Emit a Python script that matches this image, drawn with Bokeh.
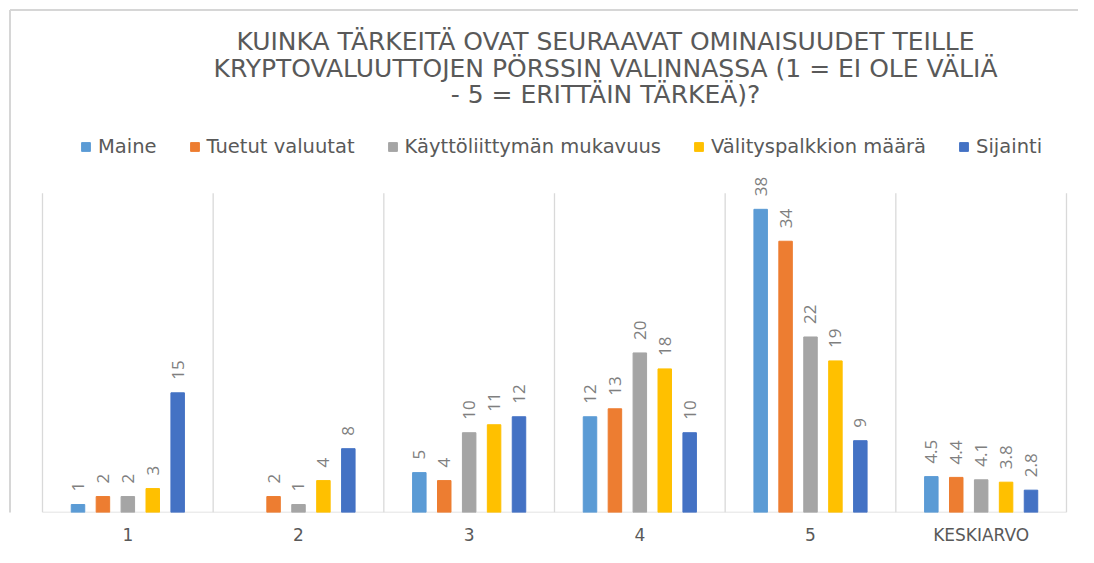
import math
from bokeh.plotting import figure
from bokeh.models import (ColumnDataSource, Range1d, FixedTicker, LabelSet, Label,
                          Legend, LegendItem)
from bokeh.transform import dodge
from bokeh.core.properties import value
from bokeh.embed import file_html
from bokeh.resources import INLINE

# ---------------- data ----------------
title_lines = [
    "KUINKA TÄRKEITÄ OVAT SEURAAVAT OMINAISUUDET TEILLE",
    "KRYPTOVALUUTTOJEN PÖRSSIN VALINNASSA (1 = EI OLE VÄLIÄ",
    "- 5 = ERITTÄIN TÄRKEÄ)?",
]
categories = ["1", "2", "3", "4", "5", "KESKIARVO"]
series_names = ["Maine", "Tuetut valuutat", "Käyttöliittymän mukavuus",
                "Välityspalkkion määrä", "Sijainti"]
maine = [1, None, 5, 12, 38, 4.5]
tuetut_valuutat = [2, 2, 4, 13, 34, 4.4]
kayttoliittyma = [2, 1, 10, 20, 22, 4.1]
valityspalkkio = [3, 4, 11, 18, 19, 3.8]
sijainti = [15, 8, 12, 10, 9, 2.8]
series_values = [maine, tuetut_valuutat, kayttoliittyma, valityspalkkio, sijainti]
colors = ["#5B9BD5", "#ED7D31", "#A5A5A5", "#FFC000", "#4472C4"]
y_max = 40

# ---------------- layout ----------------
FONT = "Open Sans"
WIDE = "DejaVu Sans"
W, H = 1078, 547
MB = 32
frame_w, frame_h = W, H - MB
plot_left, plot_right = 42, 1066          # pixel extent of the category area
n = len(categories)
cat_px = (plot_right - plot_left) / n
px_per_unit = 321 / y_max
x0 = -plot_left / cat_px
x1 = n + (frame_w - plot_right) / cat_px
y_top = frame_h / px_per_unit

p = figure(width=W, height=H, output_backend="svg", toolbar_location=None,
           title_location=None,
           x_range=Range1d(x0, x1), y_range=Range1d(0, y_top),
           min_border_left=0, min_border_right=0, min_border_top=0,
           min_border_bottom=MB, background_fill_color="white",
           border_fill_color="white")
p.outline_line_color = None
p.xgrid.visible = False
p.ygrid.visible = False
p.yaxis.visible = False

centers = [i + 0.5 for i in range(n)]
p.xaxis.ticker = FixedTicker(ticks=centers)
p.xaxis.major_label_overrides = {c: cat for c, cat in zip(centers, categories)}
p.xaxis.axis_line_color = None
p.xaxis.major_tick_line_color = None
p.xaxis.minor_tick_line_color = None
p.xaxis.major_tick_out = 0
p.xaxis.major_tick_in = 0
p.xaxis.minor_tick_out = 0
p.xaxis.minor_tick_in = 0
p.xaxis.major_label_text_font = WIDE
p.xaxis.major_label_text_font_size = "17px"
p.xaxis.major_label_text_color = "#595959"
p.xaxis.major_label_standoff = 12

# chart border (top & left edges of the chart area)
bx = x0 + 9.5 / cat_px
by = y_top - 9.5 / px_per_unit
p.segment(x0=[bx, bx], x1=[bx, x1 + 1], y0=[-5, by], y1=[by, by],
          line_color="#d6d6d6", line_width=2)

# baseline and category separators
p.segment(x0=[0], x1=[n], y0=[0], y1=[0], line_color="#d9d9d9", line_width=1.3)
bounds = list(range(n + 1))
p.segment(x0=bounds, x1=bounds, y0=[0] * len(bounds), y1=[y_max] * len(bounds),
          line_color="#d9d9d9", line_width=1.3)

step = 0.146
bar_w = 0.079
k = len(series_names)
items = []
for j, (name, vals, col) in enumerate(zip(series_names, series_values, colors)):
    off = (j - (k - 1) / 2) * step
    src = ColumnDataSource(dict(
        xc=centers,
        v=[float("nan") if v is None else v for v in vals],
        t=["" if v is None else f"{v:g}" for v in vals],
    ))
    r = p.vbar(x=dodge("xc", off, range=p.x_range), top="v", bottom=0, width=bar_w,
               source=src, fill_color=col, line_color=col)
    items.append(LegendItem(label=name, renderers=[r]))
    p.add_layout(LabelSet(x=dodge("xc", off, range=p.x_range), y="v", text="t",
                          source=src, angle=math.pi / 2, text_align="left",
                          text_baseline="middle", y_offset=13,
                          text_font=value(FONT), text_font_size="17px",
                          text_color="#7f7f7f"))

legend = Legend(items=items, orientation="horizontal", location=(80, frame_h - 161),
                margin=0, padding=0, spacing=32, glyph_width=11, glyph_height=11,
                label_standoff=7, label_height=20,
                label_text_font=WIDE, label_text_font_size="19.5px",
                label_text_color="#595959", border_line_color=None,
                background_fill_alpha=0)
p.add_layout(legend)

# title lines (screen units relative to the frame)
title_centers = [44, 71, 97]
for line, ty in zip(title_lines, title_centers):
    p.add_layout(Label(x=605, y=frame_h - ty, x_units="screen", y_units="screen",
                       text=line, text_align="center", text_baseline="middle",
                       text_font=WIDE, text_font_size="25px",
                       text_color="#595959"))

open("out.html", "w").write(file_html(p, INLINE))
